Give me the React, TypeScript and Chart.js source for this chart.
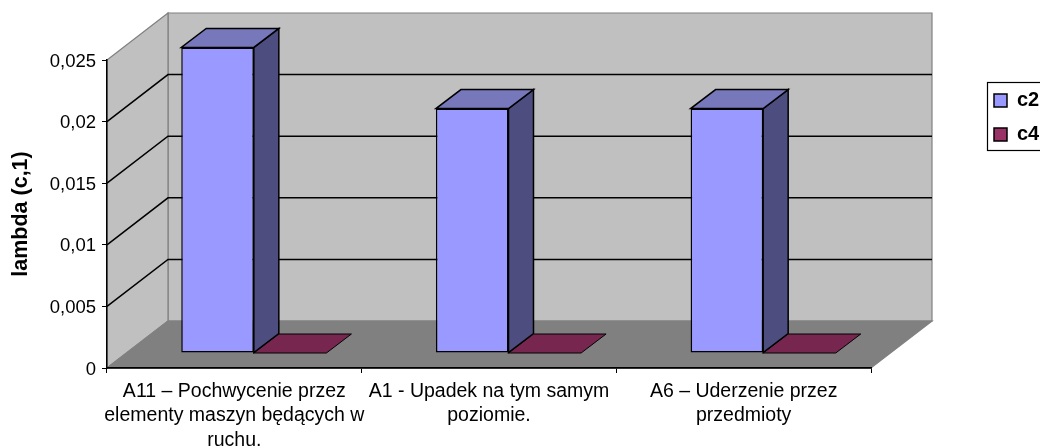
import React, { useEffect, useRef } from "react";
import { Chart, registerables } from "chart.js";

Chart.register(...registerables);

const categories = [
  ["A11 – Pochwycenie przez", "elementy maszyn będących w", "ruchu."],
  ["A1 - Upadek na tym samym", "poziomie."],
  ["A6 – Uderzenie przez", "przedmioty"],
];
const c2Values = [0.025, 0.02, 0.02];
const c4Values = [0, 0, 0];

const FONT = '"Liberation Sans", Arial, sans-serif';
const WALL_DEPTH = { x: 61, y: 47 };
const BAR_OFFSET = { x: 19.5, y: 15 };
const BAR_DEPTH = { x: 25, y: 19 };
const BAR_SCALE = 0.992;

const faces: Record<string, { top: string; side: string; line: number }> = {
  c2: { top: "#7777BB", side: "#4D4D80", line: 1.5 },
  c4: { top: "#77264F", side: "#4D1933", line: 1 },
};

function poly(ctx: CanvasRenderingContext2D, pts: number[][], fill: string | null, stroke: string | null, lw = 1) {
  ctx.beginPath();
  pts.forEach((p, i) => (i ? ctx.lineTo(p[0], p[1]) : ctx.moveTo(p[0], p[1])));
  ctx.closePath();
  if (fill) {
    ctx.fillStyle = fill;
    ctx.fill();
  }
  if (stroke) {
    ctx.strokeStyle = stroke;
    ctx.lineWidth = lw;
    ctx.lineJoin = "miter";
    ctx.stroke();
  }
}

const chart3d = {
  id: "chart3d",
  beforeDraw(chart: any) {
    const { ctx, chartArea: a, scales } = chart;
    const dx = WALL_DEPTH.x;
    const dy = WALL_DEPTH.y;
    ctx.save();
    const edge = "#808080";
    poly(ctx, [[a.left + dx, a.top - dy], [a.right + dx, a.top - dy], [a.right + dx, a.bottom - dy], [a.left + dx, a.bottom - dy]], "#C0C0C0", edge, 1.2);
    poly(ctx, [[a.left, a.top], [a.left + dx, a.top - dy], [a.left + dx, a.bottom - dy], [a.left, a.bottom]], "#C0C0C0", edge, 1.2);
    poly(ctx, [[a.left, a.bottom], [a.right, a.bottom], [a.right + dx, a.bottom - dy], [a.left + dx, a.bottom - dy]], "#808080", edge, 1.2);
    ctx.strokeStyle = "#000";
    ctx.lineWidth = 1.5;
    scales.y.ticks.forEach((t: any) => {
      if (t.value <= 0 || t.value >= scales.y.max - 1e-9) return;
      const y = scales.y.getPixelForValue(t.value);
      ctx.beginPath();
      ctx.moveTo(a.left, y);
      ctx.lineTo(a.left + dx, y - dy);
      ctx.lineTo(a.right + dx, y - dy);
      ctx.stroke();
    });
    ctx.restore();

    // the legend is placed beside the plot, where the reference has it
    const lg = chart.legend;
    if (lg) {
      lg.left = 980;
      lg.right = 1100;
      lg.top = 76.5;
      lg.bottom = 300;
    }
  },
  afterDraw(chart: any) {
    const { ctx } = chart;
    ctx.save();
    ctx.strokeStyle = "#000";
    ctx.lineWidth = 1.2;
    ctx.strokeRect(987.5, 82.5, 70, 68);
    ctx.restore();
  },
  beforeDatasetDraw(chart: any) {
    const { ctx, chartArea: a } = chart;
    ctx.save();
    ctx.translate(BAR_OFFSET.x, -BAR_OFFSET.y);
    ctx.translate(0, a.bottom);
    ctx.scale(1, BAR_SCALE);
    ctx.translate(0, -a.bottom);
  },
  afterDatasetDraw(chart: any, args: any) {
    const { ctx } = chart;
    const ds = chart.data.datasets[args.index];
    const f = faces[ds.label];
    chart.getDatasetMeta(args.index).data.forEach((bar: any) => {
      const x0 = bar.x - bar.width / 2;
      const x1 = bar.x + bar.width / 2;
      const dx = BAR_DEPTH.x;
      const dy = BAR_DEPTH.y / BAR_SCALE;
      if (bar.base - bar.y > 0.5) {
        poly(ctx, [[x1, bar.y], [x1 + dx, bar.y - dy], [x1 + dx, bar.base - dy], [x1, bar.base]], f.side, "#000", f.line);
      }
      poly(ctx, [[x0, bar.y], [x1, bar.y], [x1 + dx, bar.y - dy], [x0 + dx, bar.y - dy]], f.top, "#000", f.line);
    });
    ctx.restore();
  },
};

export default function App() {
  const ref = useRef<HTMLCanvasElement>(null);
  useEffect(() => {
    const chart = new Chart(ref.current as HTMLCanvasElement, {
      type: "bar",
      data: {
        labels: categories,
        datasets: [
          { label: "c2", data: c2Values, backgroundColor: "#9999FF", borderColor: "#000", borderWidth: 1.5, borderSkipped: false, clip: false },
          { label: "c4", data: c4Values, backgroundColor: "#993366", borderColor: "#000", borderWidth: 1.5, borderSkipped: false, clip: false },
        ],
      } as any,
      options: {
        responsive: false,
        animation: false,
        layout: { autoPadding: false, padding: { top: 60, right: 169, bottom: 0, left: 0 } },
        datasets: { bar: { categoryPercentage: 0.57, barPercentage: 1 } },
        plugins: {
          tooltip: { enabled: false },
          legend: {
            display: true,
            position: "chartArea",
            align: "start",
            labels: {
              boxWidth: 13,
              boxHeight: 13,
              padding: 14,
              color: "#000",
              font: { family: FONT, size: 20, weight: "bold" },
            },
          },
        },
        scales: {
          x: {
            afterFit: (s: any) => {
              s.height = 80;
            },
            grid: { drawOnChartArea: false, drawTicks: true, tickLength: 5, color: "#000", offset: true },
            border: { color: "#000", width: 1.7 },
            ticks: {
              color: "#000",
              autoSkip: false,
              maxRotation: 0,
              minRotation: 0,
              padding: 6,
              font: { family: FONT, size: 19.5, lineHeight: 1.256 },
            },
          },
          y: {
            min: 0,
            max: 0.025,
            afterFit: (s: any) => {
              s.width = 107;
            },
            grid: { drawOnChartArea: false, drawTicks: true, tickLength: 5, color: "#000" },
            border: { color: "#000", width: 1.5 },
            title: {
              display: true,
              text: "lambda (c,1)",
              color: "#000",
              font: { family: FONT, size: 21.5, weight: "bold" },
              padding: { top: 8, bottom: 0 },
            },
            ticks: {
              stepSize: 0.005,
              color: "#000",
              padding: 6,
              labelOffset: 1.5,
              font: { family: FONT, size: 18.5 },
              callback: (v: any) => String(+Number(v).toFixed(3)).replace(".", ","),
            },
          },
        },
      },
      plugins: [chart3d],
    } as any);
    return () => chart.destroy();
  }, []);
  return (
    <div style={{ position: "fixed", left: 0, top: 0, width: 1040, height: 448, overflow: "hidden", background: "#fff" }}>
      <canvas ref={ref} width={1040} height={448} style={{ display: "block" }} />
    </div>
  );
}
